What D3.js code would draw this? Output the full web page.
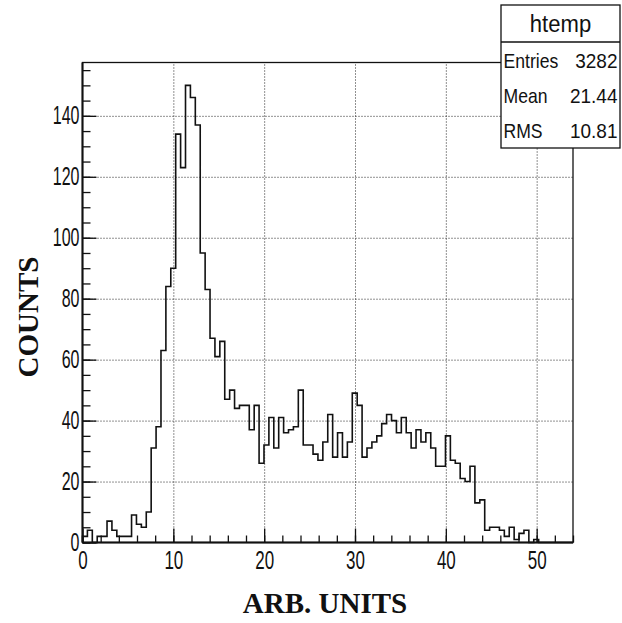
<!DOCTYPE html>
<html><head><meta charset="utf-8">
<script src="https://cdn.jsdelivr.net/npm/d3@7"></script>
<style>body{margin:0;background:#fff}svg{display:block}</style>
</head><body>
<svg id="c" width="622" height="623"></svg>
<script>
// ---- data ----
const counts = [
  2,4,0,2,2,7,4,2,2,2,
  9,6,5,10,31,38,63,84,90,134,
  123,150,146,137,95,83,67,61,66,47,
  50,44,45,45,37,45,26,32,41,31,
  41,36,37,38,50,32,32,29,27,33,
  42,28,36,28,33,49,45,28,31,33,
  35,39,42,40,36,41,36,31,37,33,
  36,31,25,25,35,27,26,21,20,25,
  13,14,4,5,5,4,2,5,1,3,
  4,0,1,0,0,0,0,0,0,0
];
const xDomain = [0, 54];
const yDomain = [0, 157.5];
const xMajorTicks = [0, 10, 20, 30, 40, 50];
const yMajorTicks = [0, 20, 40, 60, 80, 100, 120, 140];
const xGridTicks = [10, 20, 30, 40, 50];
const yGridTicks = [20, 40, 60, 80, 100, 120, 140];
const statsTitle = "htemp";
const statsLabels = ["Entries", "Mean", "RMS"];
const statsValues = ["3282", "21.44", "10.81"];
const xTitle = "ARB. UNITS";
const yTitle = "COUNTS";

// ---- layout ----
const L = 82.5, R = 573, T = 62.5, B = 542.5;
const svg = d3.select("#c");
svg.append("rect").attr("width", 622).attr("height", 623).attr("fill", "#fff");

const x = d3.scaleLinear().domain(xDomain).range([L, R]);
const y = d3.scaleLinear().domain(yDomain).range([B, T]);

// grid
const gx = svg.append("g").attr("transform", `translate(0,${B})`)
  .call(d3.axisBottom(x).tickValues(xGridTicks).tickSize(-(B - T)).tickFormat(""));
gx.select(".domain").remove();
gx.selectAll("line").attr("stroke", "#222").attr("stroke-width", 1).attr("stroke-dasharray", "1,2");
const gy = svg.append("g").attr("transform", `translate(${L},0)`)
  .call(d3.axisLeft(y).tickValues(yGridTicks).tickSize(-(R - L)).tickFormat(""));
gy.select(".domain").remove();
gy.selectAll("line").attr("stroke", "#222").attr("stroke-width", 1).attr("stroke-dasharray", "1,2");

// histogram
const binW = (xDomain[1] - xDomain[0]) / counts.length;
const pts = [{ x: xDomain[0], y: 0 }];
counts.forEach((c, i) => pts.push({ x: xDomain[0] + i * binW, y: c }));
pts.push({ x: xDomain[1], y: counts[counts.length - 1] });
pts.push({ x: xDomain[1], y: 0 });
svg.append("path")
  .attr("d", d3.line().x(d => x(d.x)).y(d => y(d.y)).curve(d3.curveStepAfter)(pts))
  .attr("fill", "none").attr("stroke", "#111").attr("stroke-width", 1.6);

// minor ticks (inward)
const mx = svg.append("g").attr("transform", `translate(0,${B})`)
  .call(d3.axisBottom(x).ticks(27).tickSize(-7).tickFormat(""));
mx.select(".domain").remove();
const my = svg.append("g").attr("transform", `translate(${L},0)`)
  .call(d3.axisLeft(y).ticks(30).tickSize(-8).tickFormat(""));
my.select(".domain").remove();

// major ticks + labels
const ax = svg.append("g").attr("transform", `translate(0,${B})`)
  .call(d3.axisBottom(x).tickValues(xMajorTicks).tickSize(-14).tickPadding(9));
ax.select(".domain").remove();
ax.selectAll("text").attr("font-family", "Liberation Sans, Arial, sans-serif")
  .attr("font-size", 25).attr("fill", "#111").attr("transform", "scale(0.68,1)");
const ay = svg.append("g").attr("transform", `translate(${L},0)`)
  .call(d3.axisLeft(y).tickValues(yMajorTicks).tickSize(-14));
ay.select(".domain").remove();
ay.selectAll("text").attr("font-family", "Liberation Sans, Arial, sans-serif")
  .attr("font-size", 25).attr("fill", "#111").attr("x", 0)
  .attr("transform", "translate(-3,0) scale(0.64,1)");
svg.selectAll(".tick line").filter(function () { return !this.getAttribute("stroke-dasharray"); })
  .attr("stroke", "#111").attr("stroke-width", 1.3);

// frame
svg.append("rect").attr("x", L).attr("y", T).attr("width", R - L).attr("height", B - T)
  .attr("fill", "none").attr("stroke", "#111").attr("stroke-width", 1.3);
svg.append("line").attr("x1", L).attr("x2", R).attr("y1", B).attr("y2", B)
  .attr("stroke", "#111").attr("stroke-width", 2);
svg.append("line").attr("x1", L).attr("x2", L).attr("y1", T).attr("y2", B)
  .attr("stroke", "#111").attr("stroke-width", 2);

// stats box
const sb = { x0: 501, x1: 620, y0: 5, y1: 148, div: 42 };
svg.append("rect").attr("x", sb.x0).attr("y", sb.y0).attr("width", sb.x1 - sb.x0)
  .attr("height", sb.y1 - sb.y0).attr("fill", "#fff").attr("stroke", "#111").attr("stroke-width", 1.3);
svg.append("line").attr("x1", sb.x0).attr("x2", sb.x1).attr("y1", sb.div).attr("y2", sb.div)
  .attr("stroke", "#111").attr("stroke-width", 1.3);
svg.append("text").text(statsTitle)
  .attr("transform", `translate(${(sb.x0 + sb.x1) / 2},32) scale(0.92,1)`)
  .attr("text-anchor", "middle").attr("font-family", "Liberation Sans, Arial, sans-serif")
  .attr("font-size", 24).attr("fill", "#111");
const rowY = [68, 103, 138];
statsLabels.forEach((s, i) => {
  svg.append("text").text(s)
    .attr("transform", `translate(${sb.x0 + 2.5},${rowY[i]}) scale(0.88,1)`)
    .attr("font-family", "Liberation Sans, Arial, sans-serif").attr("font-size", 20).attr("fill", "#111");
  svg.append("text").text(statsValues[i])
    .attr("transform", `translate(${sb.x1 - 2.5},${rowY[i]}) scale(0.95,1)`)
    .attr("text-anchor", "end")
    .attr("font-family", "Liberation Sans, Arial, sans-serif").attr("font-size", 20).attr("fill", "#111");
});

// axis titles
svg.append("text").text(xTitle)
  .attr("x", 325).attr("y", 613).attr("text-anchor", "middle")
  .attr("font-family", "Liberation Serif, Times New Roman, serif").attr("font-weight", "bold")
  .attr("font-size", 29).attr("fill", "#111");
svg.append("text").text(yTitle)
  .attr("transform", "translate(38,317) rotate(-90)").attr("text-anchor", "middle")
  .attr("font-family", "Liberation Serif, Times New Roman, serif").attr("font-weight", "bold")
  .attr("font-size", 29).attr("fill", "#111");
</script>
</body></html>
